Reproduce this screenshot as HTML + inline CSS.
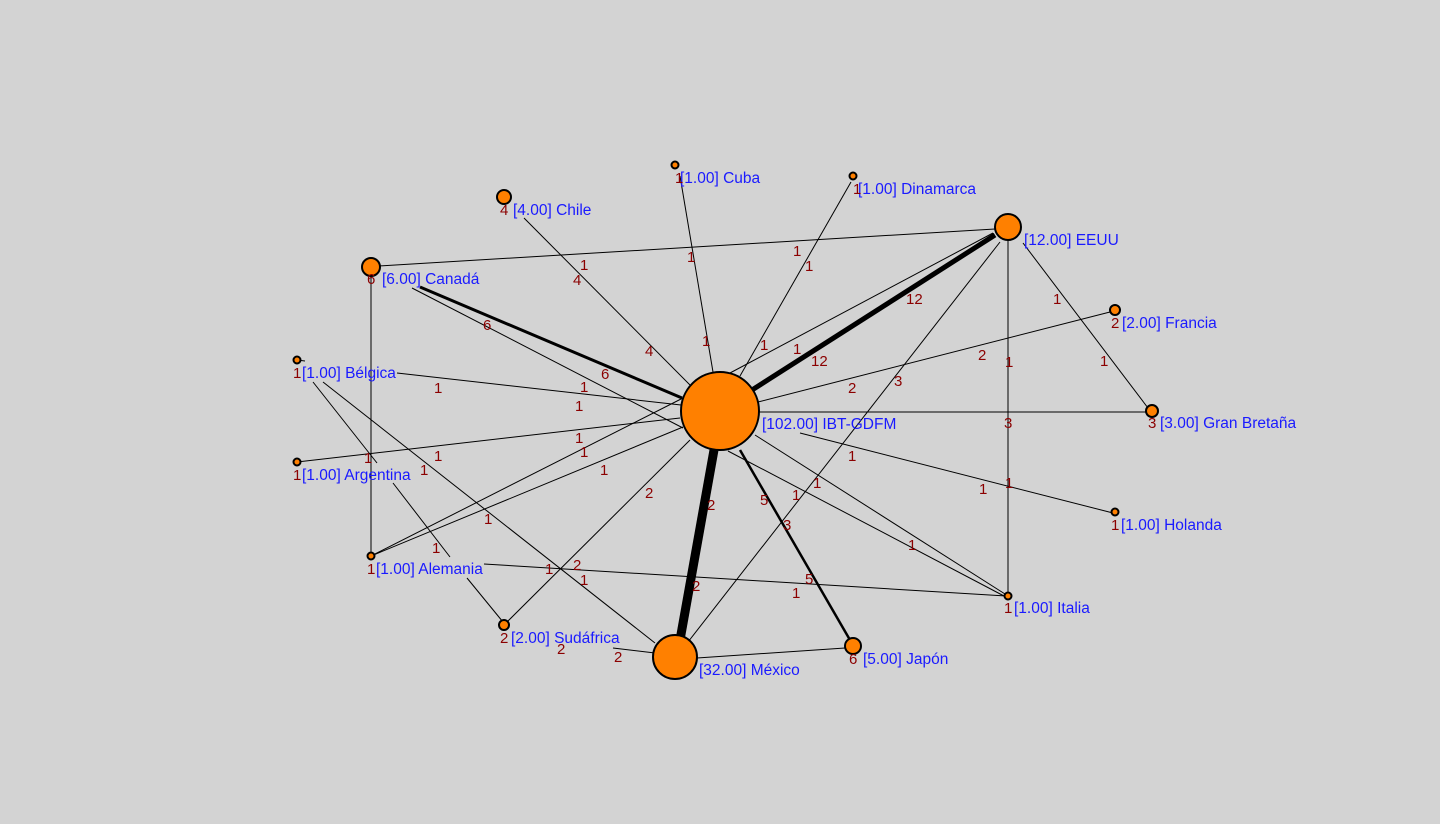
<!DOCTYPE html>
<html><head><meta charset="utf-8"><style>
html,body{margin:0;padding:0;background:#d3d3d3;}
svg{display:block;}
.l{stroke:#000;stroke-width:1;fill:none;}
.n{fill:#ff8000;stroke:#000;stroke-width:2;}
.t{font-family:"Liberation Sans",sans-serif;font-size:15.5px;fill:#1a1aff;}
.w{font-family:"Liberation Sans",sans-serif;font-size:15px;fill:#8b0000;}
</style></head><body>
<svg width="1440" height="824" viewBox="0 0 1440 824" xmlns="http://www.w3.org/2000/svg">
<rect width="1440" height="824" fill="#d3d3d3"/>
<g class="l">
<line x1="378" y1="266" x2="995" y2="229"/>
<line x1="371" y1="267" x2="371" y2="556"/>
<line x1="420" y1="287" x2="682" y2="398" stroke-width="3"/>
<line x1="412" y1="288" x2="683" y2="428"/>
<line x1="524" y1="218" x2="690" y2="385"/>
<line x1="680" y1="176" x2="713" y2="372"/>
<line x1="851" y1="182" x2="740" y2="376"/>
<line x1="995" y1="235" x2="752" y2="390" stroke-width="5"/>
<line x1="993" y1="233" x2="730" y2="373"/>
<line x1="1000" y1="242" x2="688" y2="642"/>
<line x1="1008" y1="240" x2="1008" y2="596"/>
<line x1="1023" y1="243" x2="1148" y2="408"/>
<line x1="1110" y1="312" x2="758" y2="402"/>
<line x1="758" y1="412" x2="1146" y2="412"/>
<line x1="800" y1="433" x2="1113" y2="513"/>
<line x1="755" y1="435" x2="1005" y2="594"/>
<line x1="728" y1="451" x2="1004" y2="596"/>
<line x1="740" y1="450" x2="850" y2="640" stroke-width="2.5"/>
<line x1="714" y1="450" x2="680" y2="640" stroke-width="9"/>
<line x1="484" y1="564" x2="1006" y2="596"/>
<line x1="613" y1="648" x2="655" y2="653"/>
<line x1="697" y1="658" x2="845" y2="648"/>
<line x1="690" y1="440" x2="507" y2="622"/>
<line x1="397" y1="373" x2="681" y2="405"/>
<line x1="323" y1="382" x2="655" y2="643"/>
<line x1="313" y1="382" x2="377" y2="463"/>
<line x1="393" y1="483" x2="450" y2="557"/>
<line x1="467" y1="578" x2="503" y2="622"/>
<line x1="297" y1="462" x2="680" y2="418"/>
<line x1="371" y1="556" x2="683" y2="398"/>
<line x1="371" y1="556" x2="683" y2="427"/>
<line x1="297" y1="360" x2="305" y2="361"/>
</g>
<g>
<circle class="n" cx="720" cy="411" r="39"/>
<circle class="n" cx="675" cy="657" r="22"/>
<circle class="n" cx="1008" cy="227" r="13"/>
<circle class="n" cx="371" cy="267" r="9"/>
<circle class="n" cx="504" cy="197" r="7"/>
<circle class="n" cx="675" cy="165" r="3.5"/>
<circle class="n" cx="853" cy="176" r="3.5"/>
<circle class="n" cx="1115" cy="310" r="5"/>
<circle class="n" cx="1152" cy="411" r="6"/>
<circle class="n" cx="1115" cy="512" r="3.5"/>
<circle class="n" cx="1008" cy="596" r="3.5"/>
<circle class="n" cx="853" cy="646" r="8"/>
<circle class="n" cx="504" cy="625" r="5"/>
<circle class="n" cx="371" cy="556" r="3.5"/>
<circle class="n" cx="297" cy="462" r="3.5"/>
<circle class="n" cx="297" cy="360" r="3.5"/>
</g>
<g class="t">
<text x="762" y="429">[102.00] IBT-GDFM</text>
<text x="699" y="675">[32.00] México</text>
<text x="1024" y="245">[12.00] EEUU</text>
<text x="382" y="284">[6.00] Canadá</text>
<text x="513" y="215">[4.00] Chile</text>
<text x="680" y="183">[1.00] Cuba</text>
<text x="858" y="194">[1.00] Dinamarca</text>
<text x="1122" y="328">[2.00] Francia</text>
<text x="1160" y="428">[3.00] Gran Bretaña</text>
<text x="1121" y="530">[1.00] Holanda</text>
<text x="1014" y="613">[1.00] Italia</text>
<text x="863" y="664">[5.00] Japón</text>
<text x="511" y="643">[2.00] Sudáfrica</text>
<text x="376" y="574">[1.00] Alemania</text>
<text x="302" y="480">[1.00] Argentina</text>
<text x="302" y="378">[1.00] Bélgica</text>
</g>
<g class="w">
<text x="500" y="215">4</text><text x="675" y="183">1</text><text x="853" y="194">1</text>
<text x="1111" y="328">2</text><text x="1148" y="428">3</text><text x="1111" y="530">1</text>
<text x="1004" y="613">1</text><text x="849" y="664">6</text><text x="500" y="643">2</text>
<text x="367" y="574">1</text><text x="293" y="480">1</text><text x="293" y="378">1</text>
<text x="367" y="284">6</text>
<text x="580" y="270">1</text><text x="573" y="285">4</text><text x="645" y="356">4</text>
<text x="687" y="262">1</text><text x="702" y="346">1</text>
<text x="793" y="256">1</text><text x="805" y="271">1</text>
<text x="760" y="350">1</text><text x="793" y="354">1</text>
<text x="906" y="304">12</text><text x="811" y="366">12</text>
<text x="1053" y="304">1</text><text x="1100" y="366">1</text>
<text x="978" y="360">2</text><text x="848" y="393">2</text>
<text x="894" y="386">3</text><text x="1005" y="367">1</text><text x="1004" y="428">3</text>
<text x="483" y="330">6</text><text x="601" y="379">6</text>
<text x="434" y="393">1</text><text x="580" y="392">1</text><text x="575" y="411">1</text>
<text x="434" y="461">1</text><text x="575" y="443">1</text><text x="580" y="457">1</text>
<text x="600" y="475">1</text><text x="364" y="463">1</text><text x="420" y="475">1</text>
<text x="484" y="524">1</text><text x="432" y="553">1</text>
<text x="645" y="498">2</text><text x="707" y="510">2</text><text x="692" y="591">2</text>
<text x="545" y="574">1</text><text x="573" y="570">2</text><text x="580" y="585">1</text>
<text x="557" y="654">2</text><text x="614" y="662">2</text>
<text x="760" y="505">5</text><text x="783" y="530">3</text><text x="805" y="584">5</text>
<text x="792" y="500">1</text><text x="813" y="488">1</text><text x="848" y="461">1</text>
<text x="792" y="598">1</text><text x="908" y="550">1</text>
<text x="979" y="494">1</text><text x="1005" y="488">1</text>
</g>
</svg>
</body></html>
